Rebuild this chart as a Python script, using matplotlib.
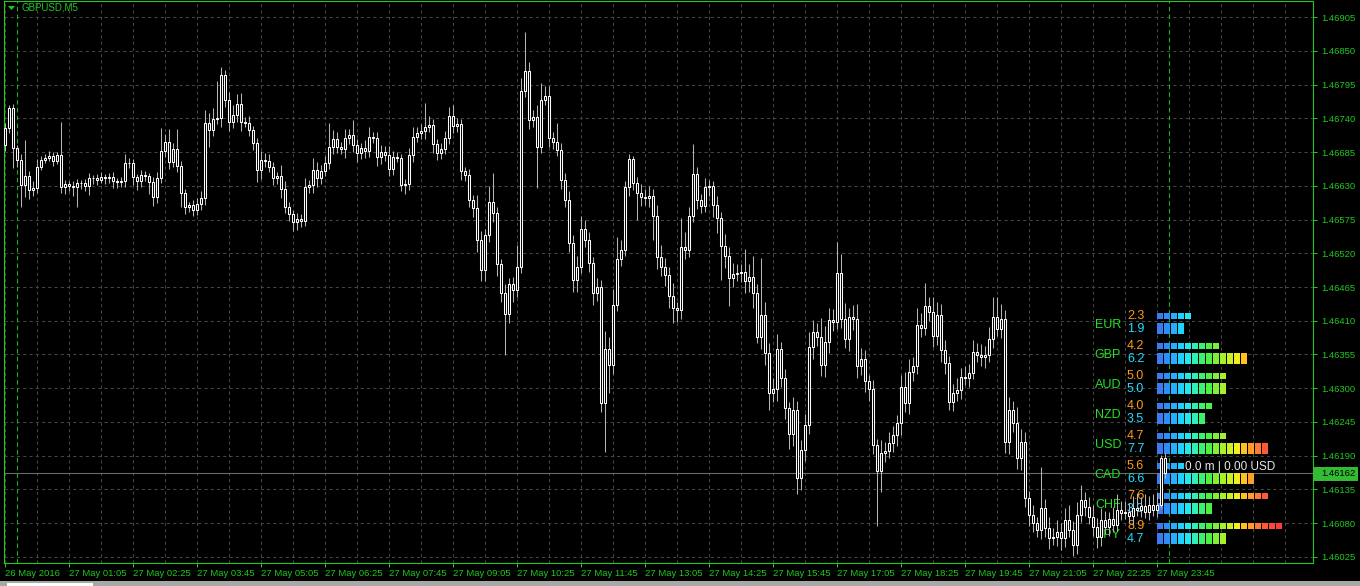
import numpy as np
import matplotlib
matplotlib.use("Agg")
import matplotlib.pyplot as plt
from matplotlib.patches import Rectangle, Polygon
from matplotlib.transforms import Affine2D

# --- Data (GBPUSD M5, prices as points above BASE) ---
BASE = 1.46
OPEN0 = 697
CLOSE_PTS = [
    724, 757, 692, 672, 631, 646, 623, 627, 661, 672,
    676, 679, 671, 680, 628, 633, 630, 628, 635, 635,
    630, 643, 643, 640, 644, 643, 644, 638, 636, 638,
    667, 667, 644, 638, 648, 646, 636, 612, 643, 687,
    702, 669, 690, 662, 618, 596, 599, 591, 600, 610,
    733, 721, 739, 741, 811, 770, 734, 746, 763, 734,
    733, 721, 700, 656, 672, 671, 661, 643, 646, 625,
    596, 584, 571, 576, 573, 628, 631, 656, 643, 654,
    667, 693, 706, 693, 690, 708, 713, 697, 684, 692,
    687, 710, 708, 677, 685, 680, 658, 677, 676, 631,
    633, 680, 710, 716, 719, 726, 729, 698, 684, 690,
    708, 744, 728, 731, 654, 648, 607, 594, 542, 493,
    550, 604, 586, 503, 455, 421, 470, 460, 498, 785,
    817, 737, 742, 693, 770, 777, 708, 702, 688, 640,
    607, 537, 477, 498, 560, 542, 504, 455, 465, 276,
    364, 338, 436, 511, 526, 628, 674, 635, 618, 612,
    610, 614, 581, 514, 498, 485, 451, 431, 428, 530,
    526, 581, 649, 607, 597, 628, 630, 599, 578, 532,
    516, 480, 486, 488, 490, 475, 482, 455, 384, 420,
    358, 292, 299, 364, 317, 268, 226, 265, 154, 200,
    240, 367, 392, 384, 338, 376, 411, 408, 488, 413,
    380, 416, 413, 336, 348, 312, 299, 208, 165, 195,
    198, 211, 224, 244, 302, 276, 327, 336, 403, 398,
    434, 424, 385, 420, 363, 341, 278, 292, 297, 318,
    317, 325, 359, 354, 351, 354, 380, 416, 397, 413,
    213, 265, 244, 187, 213, 121, 94, 80, 69, 105,
    72, 56, 58, 66, 56, 85, 69, 45, 94, 118,
    107, 90, 74, 58, 85, 74, 87, 77, 102, 97,
    98, 92, 105, 102, 108, 98, 110, 102, 110, 187,
    162,
]
UP_WICK = [
    8, 5, 6, 5, 10, 58, 8, 10, 12, 6,
    5, 8, 6, 5, 54, 6, 5, 8, 6, 5,
    6, 8, 5, 6, 8, 5, 6, 8, 5, 6,
    15, 8, 6, 5, 8, 6, 5, 8, 10, 37,
    12, 21, 10, 33, 8, 6, 5, 8, 10, 12,
    21, 15, 18, 60, 13, 8, 12, 15, 16, 18,
    8, 10, 6, 8, 15, 12, 10, 8, 6, 18,
    12, 8, 6, 10, 8, 15, 8, 20, 12, 10,
    12, 39, 15, 12, 8, 15, 10, 24, 10, 8,
    12, 15, 8, 10, 12, 10, 15, 10, 8, 6,
    8, 12, 15, 10, 12, 39, 15, 10, 8, 10,
    12, 15, 18, 10, 8, 6, 10, 8, 21, 15,
    10, 25, 47, 10, 8, 15, 10, 12, 36, 20,
    64, 15, 12, 20, 28, 15, 15, 10, 30, 12,
    10, 15, 12, 18, 21, 15, 12, 10, 15, 12,
    30, 20, 25, 36, 15, 10, 7, 5, 10, 15,
    12, 15, 10, 18, 20, 15, 12, 20, 10, 47,
    25, 15, 49, 12, 10, 15, 10, 8, 15, 10,
    20, 15, 18, 15, 12, 37, 20, 34, 15, 93,
    20, 15, 18, 25, 12, 15, 10, 20, 15, 15,
    18, 25, 20, 15, 31, 25, 20, 18, 51, 30,
    26, 15, 20, 25, 18, 15, 10, 15, 10, 20,
    15, 18, 15, 12, 20, 25, 20, 15, 28, 20,
    37, 15, 25, 20, 18, 15, 12, 15, 20, 15,
    18, 15, 20, 15, 18, 15, 20, 33, 33, 25,
    15, 20, 15, 25, 20, 15, 12, 15, 10, 67,
    15, 18, 15, 20, 15, 20, 25, 15, 20, 25,
    13, 15, 20, 15, 20, 15, 12, 20, 25, 15,
    18, 15, 20, 25, 15, 20, 15, 18, 20, 5,
    8,
]
DN_WICK = [
    10, 8, 33, 12, 36, 20, 15, 10, 8, 6,
    5, 6, 8, 5, 10, 12, 8, 15, 33, 10,
    8, 15, 10, 8, 6, 10, 8, 12, 10, 8,
    10, 8, 12, 15, 10, 8, 20, 15, 10, 8,
    10, 12, 8, 10, 23, 12, 8, 10, 8, 10,
    12, 28, 10, 8, 15, 12, 15, 10, 12, 15,
    8, 10, 12, 20, 15, 10, 8, 12, 10, 15,
    10, 12, 15, 13, 10, 8, 10, 12, 15, 10,
    8, 10, 12, 10, 8, 15, 10, 12, 15, 10,
    12, 10, 8, 15, 12, 10, 12, 10, 8, 10,
    15, 10, 12, 8, 10, 12, 8, 15, 12, 10,
    8, 10, 12, 10, 15, 10, 12, 15, 20, 18,
    18, 12, 15, 20, 15, 67, 15, 20, 12, 10,
    10, 15, 12, 67, 10, 8, 15, 12, 10, 15,
    12, 15, 20, 20, 10, 12, 15, 20, 12, 15,
    80, 46, 15, 10, 12, 10, 15, 12, 44, 15,
    12, 15, 39, 20, 15, 18, 20, 25, 20, 15,
    15, 12, 10, 15, 12, 10, 15, 20, 25, 55,
    20, 46, 15, 12, 15, 20, 18, 25, 10, 20,
    20, 28, 15, 20, 15, 18, 25, 20, 26, 20,
    18, 15, 20, 15, 18, 20, 18, 15, 12, 15,
    15, 20, 18, 20, 15, 18, 20, 15, 90, 34,
    15, 12, 15, 18, 20, 15, 18, 15, 12, 15,
    12, 15, 18, 15, 20, 18, 13, 15, 12, 15,
    12, 15, 10, 12, 15, 18, 12, 15, 12, 15,
    18, 20, 15, 18, 20, 15, 18, 15, 12, 15,
    15, 18, 12, 15, 20, 15, 12, 18, 15, 12,
    15, 12, 15, 18, 15, 12, 15, 12, 10, 12,
    10, 12, 15, 10, 12, 10, 12, 10, 12, 5,
    8,
]
BID = 1.46162

PRICE_TICKS = [1.46905, 1.46850, 1.46795, 1.46740, 1.46685, 1.46630, 1.46575,
               1.46520, 1.46465, 1.46410, 1.46355, 1.46300, 1.46245, 1.46190,
               1.46135, 1.46080, 1.46025]
TIME_LABELS = ["26 May 2016", "27 May 01:05", "27 May 02:25", "27 May 03:45",
               "27 May 05:05", "27 May 06:25", "27 May 07:45", "27 May 09:05",
               "27 May 10:25", "27 May 11:45", "27 May 13:05", "27 May 14:25",
               "27 May 15:45", "27 May 17:05", "27 May 18:25", "27 May 19:45",
               "27 May 21:05", "27 May 22:25", "27 May 23:45"]
LABEL_EVERY = 16      # bars between time labels
GRID_EVERY = 8        # bars between vertical grid lines
DAY_STARTS = [3, 291]  # bar index of 00:00

CURRENCIES = ["EUR", "GBP", "AUD", "NZD", "USD", "CAD", "CHF", "JPY"]
STRENGTH_A = [2.3, 4.2, 5.0, 4.0, 4.7, 5.6, 7.6, 8.9]
STRENGTH_B = [1.9, 6.2, 5.0, 3.5, 7.7, 6.6, 3.9, 4.7]
SEG_COLORS = ["#3a7cf0", "#2e8ef8", "#24b0ff", "#1ed2ff", "#22e8f0", "#30f0b8",
              "#3cf070", "#4cf040", "#7ef036", "#a8f02c", "#ccf026", "#eef020",
              "#ffc020", "#ffa028", "#ff7a30", "#ff5a36", "#ff4a3a", "#ff3c3c"]

# --- Style ---
W, H = 1360, 586
GREEN = "#20c820"
GRID = "#454545"
FONT = "Liberation Sans"
plt.rcParams["font.family"] = [FONT, "DejaVu Sans"]

closes = BASE + np.array(CLOSE_PTS) / 1e5
opens = np.concatenate([[BASE + OPEN0 / 1e5], closes[:-1]])
tops = np.maximum(opens, closes)
bots = np.minimum(opens, closes)
highs = tops + np.array(UP_WICK) / 1e5
lows = bots - np.array(DN_WICK) / 1e5
x = np.arange(len(closes))

fig = plt.figure(figsize=(W / 100, H / 100), dpi=100, facecolor="black")
# plot frame: x 4..1313, y 1..563 (pixels from top-left)
ax = fig.add_axes([4 / W, (H - 563) / H, (1313 - 4) / W, (563 - 1) / H])
ax.set_facecolor("black")
ax.set_xlim(-0.25, 327)
ax.set_ylim(1.460152, 1.469311)

# pixel transform (origin top-left) for screen-anchored objects
PIX = Affine2D().scale(1 / W, -1 / H).translate(0, 1) + fig.transFigure

# grid
for p in PRICE_TICKS:
    ax.axhline(p, color=GRID, lw=0.75, ls=(0, (3, 3)), zorder=0.5)
for gx in range(0, 328, GRID_EVERY):
    ax.axvline(gx, color=GRID, lw=0.75, ls=(0, (3, 3)), zorder=0.5)
for d in DAY_STARTS:
    ax.axvline(d, color="#22b022", lw=0.8, ls=(0, (4, 3)), zorder=0.6)

# bid line
ax.axhline(BID, color="#6a6a6a", lw=0.8, zorder=1)

# --- strength indicator (pixel anchored, below candles) ---
for i, cur in enumerate(CURRENCIES):
    y0 = 325 + 30 * i
    ax.text(1121, y0, cur, transform=PIX, color="#22e022", fontsize=9,
            ha="right", va="center", zorder=2, clip_on=False)
    ax.text(1127, y0 - 9.3, f"{STRENGTH_A[i]:.1f}", transform=PIX, color="#ff9a10",
            fontsize=9, ha="left", va="center", zorder=2, clip_on=False)
    ax.text(1127, y0 + 4.3, f"{STRENGTH_B[i]:.1f}", transform=PIX, color="#22ddff",
            fontsize=9, ha="left", va="center", zorder=2, clip_on=False)
    for val, yt, hh in [(STRENGTH_A[i], y0 - 11.7, 5.4), (STRENGTH_B[i], y0 - 1.7, 10.7)]:
        n = int(np.ceil(round(val * 2, 3)))
        for k in range(n):
            ax.add_patch(Rectangle((1157.3 + 7 * k, yt), 5.8, hh, transform=PIX,
                                   facecolor=SEG_COLORS[k], edgecolor="none",
                                   zorder=2, clip_on=False))

ax.text(1185, 467, "0.0 m | 0.00 USD", transform=PIX, color="#e8e8e8", fontsize=8.5,
        ha="left", va="center", zorder=2.5, clip_on=False,
        bbox=dict(facecolor="black", edgecolor="none", pad=0.3))

# --- candles ---
ax.vlines(x, lows, highs, color="#b4b4b4", lw=0.75, zorder=3)
ax.bar(x, np.maximum(tops - bots, 1e-7), bottom=bots, width=0.72,
       color="black", edgecolor="white", linewidth=0.75, zorder=4)

# --- axes ---
for s in ax.spines.values():
    s.set_color(GREEN)
    s.set_linewidth(0.8)
ax.yaxis.tick_right()
ax.set_yticks(PRICE_TICKS)
ax.set_yticklabels([f"{p:.5f}" for p in PRICE_TICKS])
ax.set_xticks(np.arange(len(TIME_LABELS)) * LABEL_EVERY)
ax.set_xticklabels(TIME_LABELS, ha="left")
ax.tick_params(axis="both", colors=GREEN, labelcolor=GREEN, labelsize=6.8,
               length=3, width=0.75, direction="out")
ax.tick_params(axis="y", pad=3)
ax.tick_params(axis="x", pad=1.5)
for lbl in ax.get_xticklabels():
    lbl.set_x(lbl.get_position()[0])

# bid label on price scale
ax.add_patch(Rectangle((1313, 467), 45, 14, transform=PIX, facecolor="#33bb33",
                       edgecolor="none", zorder=6, clip_on=False))
ax.text(1321, 474, f"{BID:.5f}", transform=PIX, color="black", fontsize=6.8,
        ha="left", va="center", zorder=7, clip_on=False)

# title
ax.text(21, 8, "GBPUSD,M5", transform=PIX, color=GREEN, fontsize=7,
        ha="left", va="center", zorder=7, clip_on=False)
ax.add_patch(Polygon([(8, 6), (15, 6), (11.5, 10)], closed=True, transform=PIX,
                     facecolor=GREEN, edgecolor="none", zorder=7, clip_on=False))

# bottom tab strip
ax.add_patch(Rectangle((0, 581), W, 5, transform=PIX, facecolor="#a8a8a8",
                       edgecolor="none", zorder=7, clip_on=False))
ax.add_patch(Rectangle((7, 582.5), 86, 4, transform=PIX, facecolor="white",
                       edgecolor="none", zorder=8, clip_on=False))

fig.savefig("out.png", dpi=100, facecolor="black")
